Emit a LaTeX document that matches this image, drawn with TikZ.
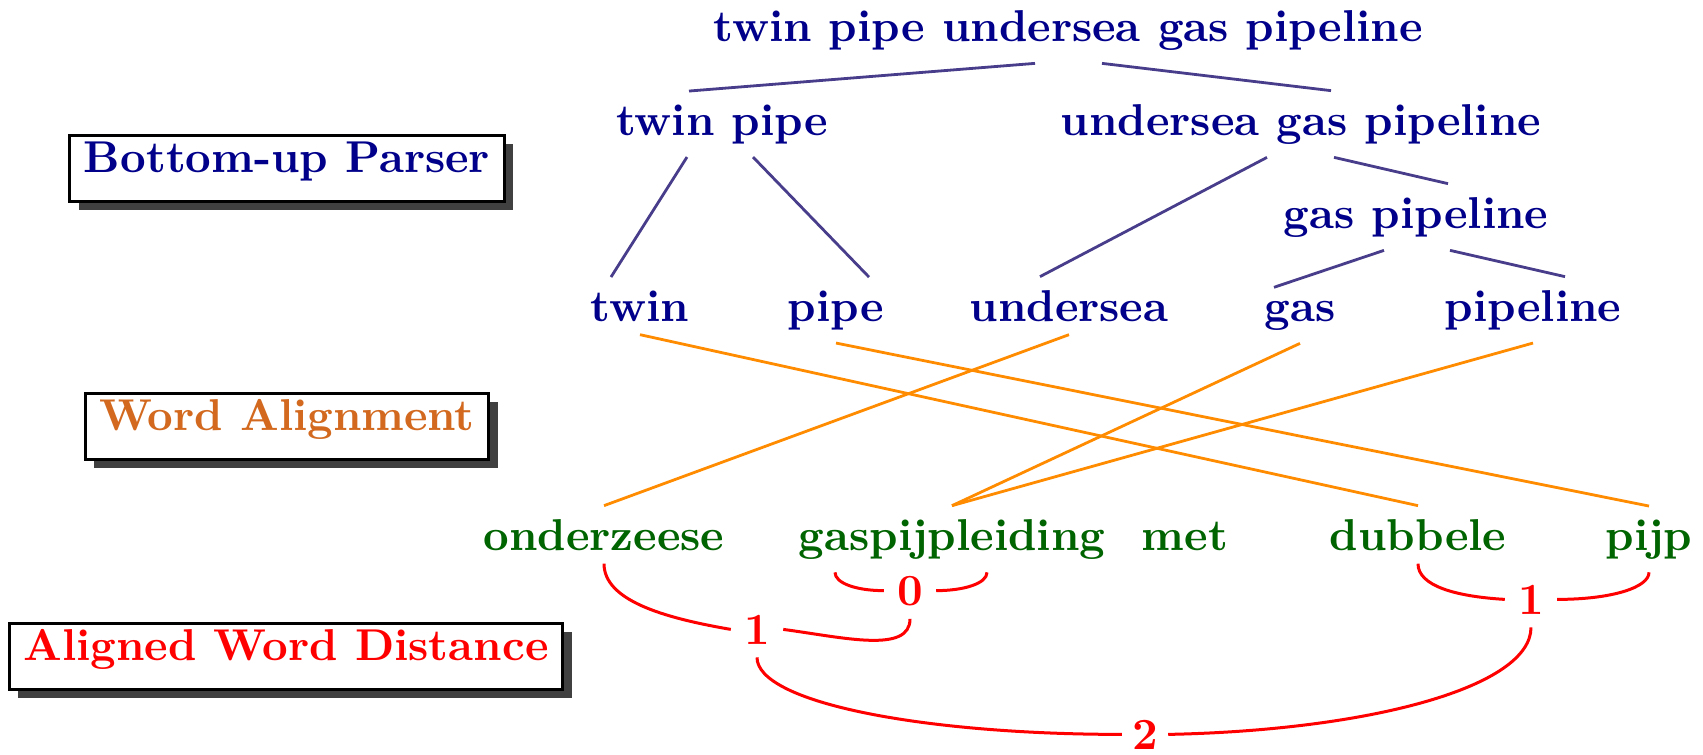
\documentclass[tikz,border=0pt]{standalone}
\usetikzlibrary{shadows}
\definecolor{treeblue}{HTML}{00008B}
\definecolor{edgeblue}{HTML}{483D8B}
\definecolor{alignorange}{HTML}{FF8C00}
\definecolor{labelorange}{HTML}{D2691E}
\definecolor{dutchgreen}{HTML}{006400}
\font\figfont="[lmroman10-bold]:mapping=tex-text" at 22.3pt
\begin{document}
\begin{tikzpicture}[x=0.5pt,y=-0.5pt,
  every node/.style={font=\figfont, inner sep=6.5pt},
  en/.style={text=treeblue, anchor=base},
  nl/.style={text=dutchgreen, anchor=base},
  dist/.style={text=red, anchor=base},
  lab/.style={draw=black, line width=1.5pt, fill=white, minimum height=33pt,
    inner xsep=7pt, text height=0.69em, text depth=0.2em,
    drop shadow={shadow xshift=4.5pt, shadow yshift=-4.5pt, fill=black!75, opacity=1}},
  tree/.style={draw=edgeblue, line width=1.4pt},
  align/.style={draw=alignorange, line width=1.4pt},
  dline/.style={draw=red, line width=1.5pt},
]
\fill[white] (0,0) rectangle (1703,755);
\useasboundingbox (0,0) rectangle (1703,755);

\node[en] (top) at (1068,41) {twin pipe undersea gas pipeline};
\node[en] (tp) at (722,135) {twin pipe};
\node[en] (ugp) at (1301,135) {undersea gas pipeline};
\node[en] (gp) at (1416,228) {gas pipeline};
\node[en] (twin) at (640,321) {twin};
\node[en] (pipe) at (836,321) {pipe};
\node[en] (undersea) at (1069,321) {undersea};
\node[en] (gas) at (1300,321) {gas};
\node[en] (pipeline) at (1533,321) {pipeline};

\node[nl] (onderzeese) at (604,550) {onderzeese};
\node[nl] (gaspijp) at (952,550) {gaspijpleiding};
\node[nl] (met) at (1185,550) {met};
\node[nl] (dubbele) at (1418,550) {dubbele};
\node[nl] (pijp) at (1649,550) {pijp};

\node[dist] (d0) at (910,605) {0};
\node[dist] (d1a) at (757,644) {1};
\node[dist] (d1b) at (1531,614) {1};
\node[dist, inner ysep=0.5pt, inner xsep=5pt] (d2) at (1145,749) {2};

\node[lab, text=treeblue] (bup) at (287,168) {Bottom-up Parser};
\node[lab, text=labelorange] (wa) at (287,426) {Word Alignment};
\node[lab, text=red] (awd) at (286,656) {Aligned Word Distance};

\draw[tree] ([shift={(-33,0)}]top.south) -- ([shift={(-33,0)}]tp.north);
\draw[tree] ([shift={(34,0)}]top.south) -- ([shift={(30,0)}]ugp.north);
\draw[tree] ([shift={(-35,0)}]tp.south) -- ([shift={(-29,0)}]twin.north);
\draw[tree] ([shift={(31,0)}]tp.south) -- ([shift={(33,0)}]pipe.north);
\draw[tree] ([shift={(-34,0)}]ugp.south) -- ([shift={(-29,0)}]undersea.north);
\draw[tree] ([shift={(33,0)}]ugp.south) -- ([shift={(32,0)}]gp.north);
\draw[tree] ([shift={(-32,0)}]gp.south) -- ([shift={(-26,0)}]gas.north);
\draw[tree] ([shift={(34,0)}]gp.south) -- ([shift={(32,0)}]pipeline.north);

\draw[align] (twin.south) -- (dubbele.north);
\draw[align] (pipe.south) -- (pijp.north);
\draw[align] (undersea.south) -- (onderzeese.north);
\draw[align] (gas.south) -- (gaspijp.north);
\draw[align] (pipeline.south) -- (gaspijp.north);

\draw[dline] (onderzeese.south) .. controls +(0,36) and +(-70,-12) .. (d1a.west);
\draw[dline] ([shift={(-117,0)}]gaspijp.south) .. controls +(0,11) and +(-27,0) .. (d0.west);
\draw[dline] ([shift={(35,0)}]gaspijp.south) .. controls +(0,11) and +(28,0) .. (d0.east);
\draw[dline] (d0.south) .. controls +(0,35) and +(60,8) .. (d1a.east);
\draw[dline] (dubbele.south) .. controls +(0,22) and +(-50,-3) .. (d1b.west);
\draw[dline] (pijp.south) .. controls +(0,15) and +(55,0) .. (d1b.east);
\draw[dline] (d1a.south) .. controls +(0,45) and +(-200,0) .. (d2.west);
\draw[dline] (d1b.south) .. controls +(0,60) and +(200,-4) .. (d2.east);
\end{tikzpicture}
\end{document}
